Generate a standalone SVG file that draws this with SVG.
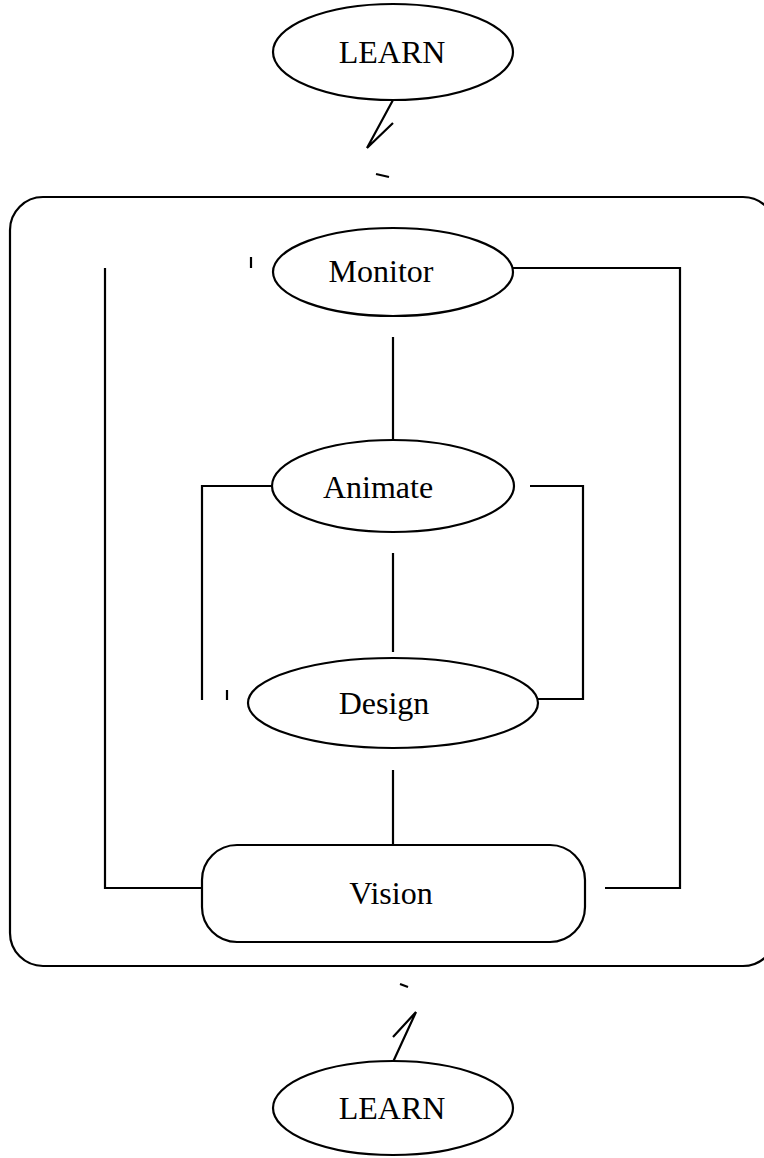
<svg xmlns="http://www.w3.org/2000/svg" width="764" height="1158" viewBox="0 0 764 1158">
<style>
.s{fill:none;stroke:#000;stroke-width:2.2}
.n{fill:#fff;stroke:#000;stroke-width:2.2}
.t{font-family:"Liberation Serif","Times New Roman",serif;font-size:32px;fill:#000;text-anchor:middle}
</style>
<rect width="764" height="1158" fill="#fff"/>
<g id="container"><rect class="s" x="10" y="197" width="766" height="769" rx="33"/></g>
<g id="connectors">
<path class="s" d="M393 100 L367 148 L393 123"/>
<path class="s" d="M376 174 L389 177"/>
<path class="s" d="M251 257 V268"/>
<path class="s" d="M513 268 H680 V888 H605"/>
<path class="s" d="M105 268 V888 H202"/>
<path class="s" d="M393 337 V440"/>
<path class="s" d="M272 486 H202 V700"/>
<path class="s" d="M530 486 H583 V699 H538"/>
<path class="s" d="M227 690 V700"/>
<path class="s" d="M393 553 V652"/>
<path class="s" d="M393 770 V845"/>
<path class="s" d="M400 984 L408 987"/>
<path class="s" d="M393 1062 L416 1012 L393 1037"/>
</g>
<g id="learn-top"><ellipse class="n" cx="393" cy="52" rx="120" ry="48"/><text class="t" x="392" y="63">LEARN</text></g>
<g id="monitor"><ellipse class="n" cx="393" cy="272" rx="120" ry="44"/><text class="t" x="381" y="282">Monitor</text></g>
<g id="animate"><ellipse class="n" cx="393" cy="486" rx="121" ry="46"/><text class="t" x="378" y="498">Animate</text></g>
<g id="design"><ellipse class="n" cx="393" cy="703" rx="145" ry="45"/><text class="t" x="384" y="714">Design</text></g>
<g id="vision"><rect class="n" x="202" y="845" width="383" height="97" rx="35"/><text class="t" x="391" y="904">Vision</text></g>
<g id="learn-bottom"><ellipse class="n" cx="393" cy="1108" rx="120" ry="47"/><text class="t" x="392" y="1119">LEARN</text></g>
</svg>
